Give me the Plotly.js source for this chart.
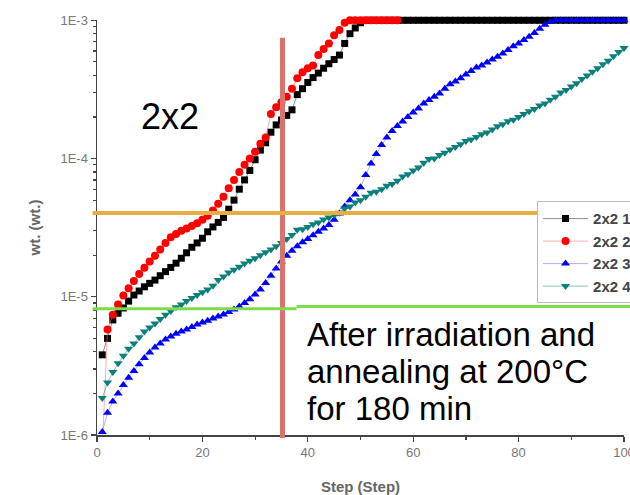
<!DOCTYPE html>
<html>
<head>
<meta charset="utf-8">
<script src="https://cdn.plot.ly/plotly-3.0.1.min.js"></script>
<style>html,body{margin:0;padding:0;background:#fff;}#chart{width:630px;height:495px;}</style>
</head>
<body>
<div id="chart"></div>
<script>
// Series names
const seriesNames = ["2x2 1", "2x2 2", "2x2 3", "2x2 4"];

// Values per step, starting at step 1
const series1 = [3.8e-6,5.0e-6,6.8e-6,7.6e-6,8.3e-6,9.3e-6,1.03e-5,1.1e-5,1.18e-5,1.25e-5,
 1.32e-5,1.42e-5,1.52e-5,1.63e-5,1.75e-5,1.9e-5,2.08e-5,2.28e-5,2.45e-5,2.65e-5,
 2.95e-5,3.2e-5,3.45e-5,3.75e-5,4.3e-5,5.0e-5,6.0e-5,7.0e-5,8.2e-5,9.8e-5,
 1.15e-4,1.3e-4,1.55e-4,1.75e-4,1.9e-4,2.05e-4,2.25e-4,2.9e-4,3.2e-4,3.55e-4,
 3.85e-4,4.15e-4,4.5e-4,4.85e-4,5.2e-4,5.6e-4,6.8e-4,8.0e-4,8.8e-4,9.6e-4,
 1e-3,1e-3,1e-3,1e-3,1e-3,1e-3,1e-3,1e-3,1e-3,1e-3,
 1e-3,1e-3,1e-3,1e-3,1e-3,1e-3,1e-3,1e-3,1e-3,1e-3,
 1e-3,1e-3,1e-3,1e-3,1e-3,1e-3,1e-3,1e-3,1e-3,1e-3,
 1e-3,1e-3,1e-3,1e-3,1e-3,1e-3,1e-3,1e-3,1e-3,1e-3,
 1e-3,1e-3,1e-3,1e-3,1e-3,1e-3,1e-3,1e-3,1e-3,1e-3];

const series2 = [8e-7,5.8e-6,7.4e-6,8.8e-6,1.02e-5,1.15e-5,1.3e-5,1.46e-5,1.62e-5,1.8e-5,
 1.98e-5,2.2e-5,2.45e-5,2.7e-5,2.85e-5,3.0e-5,3.12e-5,3.25e-5,3.4e-5,3.6e-5,
 3.85e-5,4.2e-5,4.7e-5,5.3e-5,6.1e-5,7.0e-5,8.0e-5,9.0e-5,1.0e-4,1.12e-4,
 1.28e-4,1.42e-4,2.1e-4,2.35e-4,2.55e-4,2.8e-4,3.2e-4,3.8e-4,4.2e-4,4.5e-4,
 4.7e-4,5.6e-4,6.2e-4,6.8e-4,7.8e-4,8.5e-4,9.6e-4,1e-3,1e-3,1e-3,
 1e-3,1e-3,1e-3,1e-3,1e-3,1e-3,1e-3];

const series3 = [1.05e-6,1.45e-6,1.75e-6,2.0e-6,2.3e-6,2.6e-6,2.9e-6,3.25e-6,3.6e-6,3.95e-6,
 4.3e-6,4.6e-6,4.9e-6,5.15e-6,5.4e-6,5.6e-6,5.8e-6,6.05e-6,6.3e-6,6.5e-6,
 6.7e-6,6.95e-6,7.2e-6,7.45e-6,7.75e-6,8.1e-6,8.5e-6,9.0e-6,9.6e-6,1.04e-5,
 1.13e-5,1.26e-5,1.42e-5,1.6e-5,1.8e-5,1.98e-5,2.15e-5,2.32e-5,2.48e-5,2.62e-5,
 2.78e-5,2.95e-5,3.12e-5,3.3e-5,3.6e-5,4.0e-5,4.5e-5,5.0e-5,5.5e-5,6.2e-5,
 7.6e-5,9.2e-5,1.08e-4,1.25e-4,1.42e-4,1.58e-4,1.72e-4,1.85e-4,2.0e-4,2.15e-4,
 2.3e-4,2.5e-4,2.65e-4,2.8e-4,2.95e-4,3.2e-4,3.45e-4,3.6e-4,3.8e-4,4.05e-4,
 4.3e-4,4.55e-4,4.7e-4,4.95e-4,5.2e-4,5.45e-4,5.75e-4,6.1e-4,6.5e-4,6.8e-4,
 7.2e-4,7.6e-4,8.1e-4,8.7e-4,9.3e-4,9.7e-4,1e-3,1e-3,1e-3,1e-3,
 1e-3,1e-3,1e-3,1e-3,1e-3,1e-3,1e-3,1e-3,1e-3,1e-3];

const series4 = [1.85e-6,2.4e-6,2.85e-6,3.3e-6,3.75e-6,4.2e-6,4.6e-6,5.1e-6,5.6e-6,6.0e-6,
 6.4e-6,6.9e-6,7.4e-6,7.9e-6,8.4e-6,8.8e-6,9.3e-6,9.8e-6,1.03e-5,1.08e-5,
 1.13e-5,1.2e-5,1.32e-5,1.4e-5,1.5e-5,1.57e-5,1.65e-5,1.74e-5,1.82e-5,1.9e-5,
 2.0e-5,2.1e-5,2.2e-5,2.32e-5,2.45e-5,2.62e-5,2.8e-5,3.05e-5,3.08e-5,3.2e-5,
 3.35e-5,3.45e-5,3.62e-5,3.75e-5,3.9e-5,4.05e-5,4.35e-5,4.5e-5,4.8e-5,5.0e-5,
 5.3e-5,5.65e-5,5.75e-5,6.0e-5,6.35e-5,6.55e-5,6.9e-5,7.4e-5,7.7e-5,8.2e-5,
 8.6e-5,9.3e-5,9.9e-5,1.0e-4,1.06e-4,1.1e-4,1.16e-4,1.21e-4,1.27e-4,1.34e-4,
 1.37e-4,1.43e-4,1.5e-4,1.54e-4,1.62e-4,1.71e-4,1.77e-4,1.86e-4,1.91e-4,2.0e-4,
 2.1e-4,2.2e-4,2.28e-4,2.42e-4,2.5e-4,2.66e-4,2.8e-4,3.0e-4,3.13e-4,3.32e-4,
 3.5e-4,3.76e-4,3.98e-4,4.25e-4,4.5e-4,4.8e-4,5.1e-4,5.5e-4,5.9e-4,6.3e-4];

const yTickVals = [1e-6, 1e-5, 1e-4, 1e-3];
const yTickText = ["1E-6", "1E-5", "1E-4", "1E-3"];
const xTickVals = [0, 20, 40, 60, 80, 100];

// minor tick positions on the log axis (styling only)
const yMinor = [];
for (let d = -6; d < -3; d++) for (let m = 2; m <= 9; m++) yMinor.push(m * Math.pow(10, d));

function trace(name, y, color, lineColor, symbol, size) {
  return {
    type: 'scatter', mode: 'lines+markers', name: name,
    x0: 1, dx: 1, y: y,
    line: {color: lineColor, width: 1},
    marker: {color: color, symbol: symbol, size: size, line: {width: 0}},
    cliponaxis: false
  };
}

const data = [
  trace(seriesNames[0], series1, '#000000', 'rgba(90,90,90,0.7)', 'square', 7),
  trace(seriesNames[1], series2, '#ff0000', 'rgba(255,120,120,0.6)', 'circle', 8),
  trace(seriesNames[2], series3, '#0000ff', 'rgba(120,120,255,0.6)', 'triangle-up', 8),
  trace(seriesNames[3], series4, '#0b7f7a', 'rgba(60,150,145,0.6)', 'triangle-down', 8)
];

const font = "Liberation Sans, Arial, sans-serif";

const layout = {
  width: 630, height: 495,
  margin: {l: 97, r: 6, t: 20, b: 60, autoexpand: false},
  paper_bgcolor: '#fff', plot_bgcolor: '#fff',
  font: {family: font, color: '#555'},
  showlegend: true,
  legend: {
    x: 0.835, y: 0.563, xanchor: 'left', yanchor: 'top',
    bgcolor: '#fff', bordercolor: '#bbb', borderwidth: 1,
    font: {family: font, size: 15, color: '#444', weight: 'bold'},
    itemwidth: 45, tracegroupgap: 0
  },
  xaxis: {
    range: [0, 100], showgrid: false, zeroline: false,
    showline: true, linecolor: '#444', linewidth: 1.5,
    ticks: 'outside', ticklen: 5, tickcolor: '#444', tickwidth: 1.2,
    tickmode: 'array', tickvals: xTickVals, ticklabeloverflow: 'allow',
    minor: {ticks: 'outside', ticklen: 3, tickcolor: '#444', dtick: 10, tick0: 0},
    tickfont: {family: font, size: 13, color: '#777'},
    title: {text: 'Step (Step)', font: {family: font, size: 15, color: '#666', weight: 'bold'}, standoff: 22}
  },
  yaxis: {
    type: 'log', range: [-6, -2.998], showgrid: false, zeroline: false,
    showline: true, linecolor: '#444', linewidth: 1.5,
    ticks: 'outside', ticklen: 5, tickcolor: '#444', tickwidth: 1.2,
    tickmode: 'array', tickvals: yTickVals, ticktext: yTickText,
    minor: {ticks: 'outside', ticklen: 3, tickcolor: '#444', tickmode: 'array', tickvals: yMinor},
    tickfont: {family: font, size: 13, color: '#777'},
    title: {text: 'wt. (wt.)', font: {family: font, size: 15, color: '#666', weight: 'bold'}, standoff: 16}
  },
  shapes: [
    {type: 'line', xref: 'x', yref: 'paper', x0: 35.2, x1: 35.2, y0: -0.007, y1: 0.957,
     line: {color: '#d9736b', width: 5}},
    {type: 'line', xref: 'paper', yref: 'paper', x0: -0.0085, x1: 0.874, y0: 0.535, y1: 0.535,
     line: {color: '#e9ae42', width: 4}},
    {type: 'line', xref: 'paper', yref: 'paper', x0: -0.0085, x1: 0.3786, y0: 0.304, y1: 0.304,
     line: {color: '#7fda4a', width: 3}},
    {type: 'line', xref: 'paper', yref: 'paper', x0: 0.3786, x1: 1.02, y0: 0.3096, y1: 0.3096,
     line: {color: '#7fda4a', width: 3}}
  ],
  annotations: [
    {text: '2x2', xref: 'paper', yref: 'paper', x: (170 - 97) / 527, y: (435 - 116) / 415,
     xanchor: 'center', yanchor: 'middle', showarrow: false,
     font: {family: font, size: 36, color: '#000'}},
    {text: 'After irradiation and', xref: 'paper', yref: 'paper', x: (305 - 97) / 527, y: (435 - 334) / 415,
     xanchor: 'left', yanchor: 'middle', showarrow: false, font: {family: font, size: 33, color: '#000'}},
    {text: 'annealing at 200°C', xref: 'paper', yref: 'paper', x: (305 - 97) / 527, y: (435 - 371) / 415,
     xanchor: 'left', yanchor: 'middle', showarrow: false, font: {family: font, size: 33, color: '#000'}},
    {text: 'for 180 min', xref: 'paper', yref: 'paper', x: (305 - 97) / 527, y: (435 - 408) / 415,
     xanchor: 'left', yanchor: 'middle', showarrow: false, font: {family: font, size: 33, color: '#000'}}
  ]
};

Plotly.newPlot('chart', data, layout, {displayModeBar: false, staticPlot: true});
</script>
</body>
</html>
